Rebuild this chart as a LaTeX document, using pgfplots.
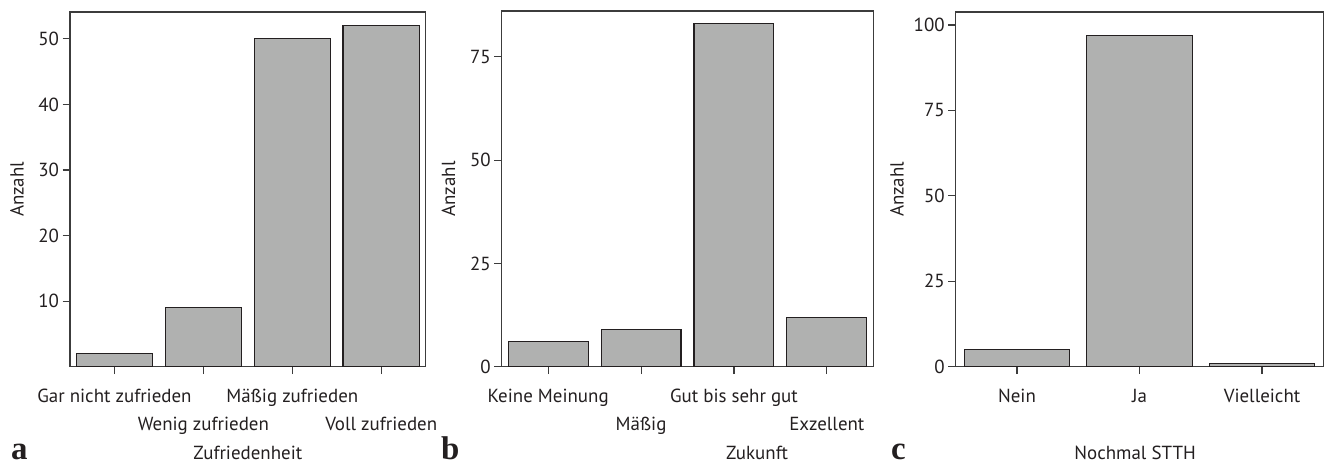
\documentclass[border=0pt]{standalone}
\usepackage{pgfplots}
\pgfplotsset{compat=1.18}
\usepackage{fontspec}
\setmainfont{PT Sans}
\newfontfamily\letterfont{Liberation Serif}
\definecolor{barfill}{RGB}{176,177,176}
\definecolor{ink}{RGB}{35,31,32}
\definecolor{axisink}{RGB}{60,60,60}
\pgfplotsset{
  panel/.style={
    scale only axis,
    anchor=south west,
    ybar, bar width=0.86, bar shift=0,
    enlargelimits=false,
    ymin=0, xmin=-0.5,
    axis line style={axisink, line width=1.1bp},
    tick style={axisink, line width=1.1bp},
    tick align=outside,
    major tick length=7.5bp,
    tick pos=left,
    every tick label/.append style={font=\fontsize{19}{21}\selectfont, text=ink},
    /pgf/number format/assume math mode=true,
    xticklabel style={anchor=base, yshift=-28.3bp},
    label style={font=\fontsize{19}{21}\selectfont, text=ink},
    xlabel style={anchor=base},
    ylabel style={anchor=center, rotate=0},
  },
  bars/.style={fill=barfill, draw=ink, line width=1.1bp},
}
\begin{document}
\begin{tikzpicture}
\path[use as bounding box] (0,0) rectangle (1324bp,464bp);
% panel a
\begin{axis}[panel, at={(70bp,97.3bp)}, width=355.7bp, height=354.7bp,
  xmax=3.5, ymax=54.1, ytick={10,20,30,40,50},
  xtick={0,2}, xticklabels={Gar nicht zufrieden, Mäßig zufrieden},
  extra x ticks={1,3}, extra x tick labels={Wenig zufrieden, Voll zufrieden},
  extra x tick style={xticklabel style={yshift=-28.3bp}},
  xlabel={Zufriedenheit}, xlabel style={at={(axis description cs:0.5,-0.263)}},
  ylabel={Anzahl}, ylabel style={at={(axis description cs:-0.149,0.5)}}]
\addplot[bars] coordinates {(0,2) (1,9) (2,50) (3,52)};
\end{axis}
% panel b
\begin{axis}[panel, at={(501.7bp,97.3bp)}, width=371.6bp, height=355.7bp,
  xmax=3.5, ymax=86.1, ytick={0,25,50,75},
  xtick={0,2}, xticklabels={Keine Meinung, Gut bis sehr gut},
  extra x ticks={1,3}, extra x tick labels={Mäßig, Exzellent},
  extra x tick style={xticklabel style={yshift=-28.3bp}},
  xlabel={Zukunft}, xlabel style={at={(axis description cs:0.687,-0.26)}},
  ylabel={Anzahl}, ylabel style={at={(axis description cs:-0.143,0.5)}}]
\addplot[bars] coordinates {(0,6) (1,9) (2,83) (3,12)};
\end{axis}
% panel c
\begin{axis}[panel, at={(955.7bp,97.3bp)}, width=367.6bp, height=354.7bp,
  xmax=2.5, ymax=103.8, ytick={0,25,50,75,100},
  xtick={0,1,2}, xticklabels={Nein, Ja, Vielleicht},
  xlabel={Nochmal STTH}, xlabel style={at={(axis description cs:0.488,-0.263)}},
  ylabel={Anzahl}, ylabel style={at={(axis description cs:-0.16,0.5)}}]
\addplot[bars] coordinates {(0,5) (1,97) (2,1)};
\end{axis}
\node[anchor=base west, font=\letterfont\bfseries\fontsize{33}{35}\selectfont, text=ink, inner sep=0pt] at (11bp,5bp) {a};
\node[anchor=base west, font=\letterfont\bfseries\fontsize{33}{35}\selectfont, text=ink, inner sep=0pt] at (441bp,5bp) {b};
\node[anchor=base west, font=\letterfont\bfseries\fontsize{33}{35}\selectfont, text=ink, inner sep=0pt] at (891bp,5bp) {c};
\end{tikzpicture}
\end{document}
